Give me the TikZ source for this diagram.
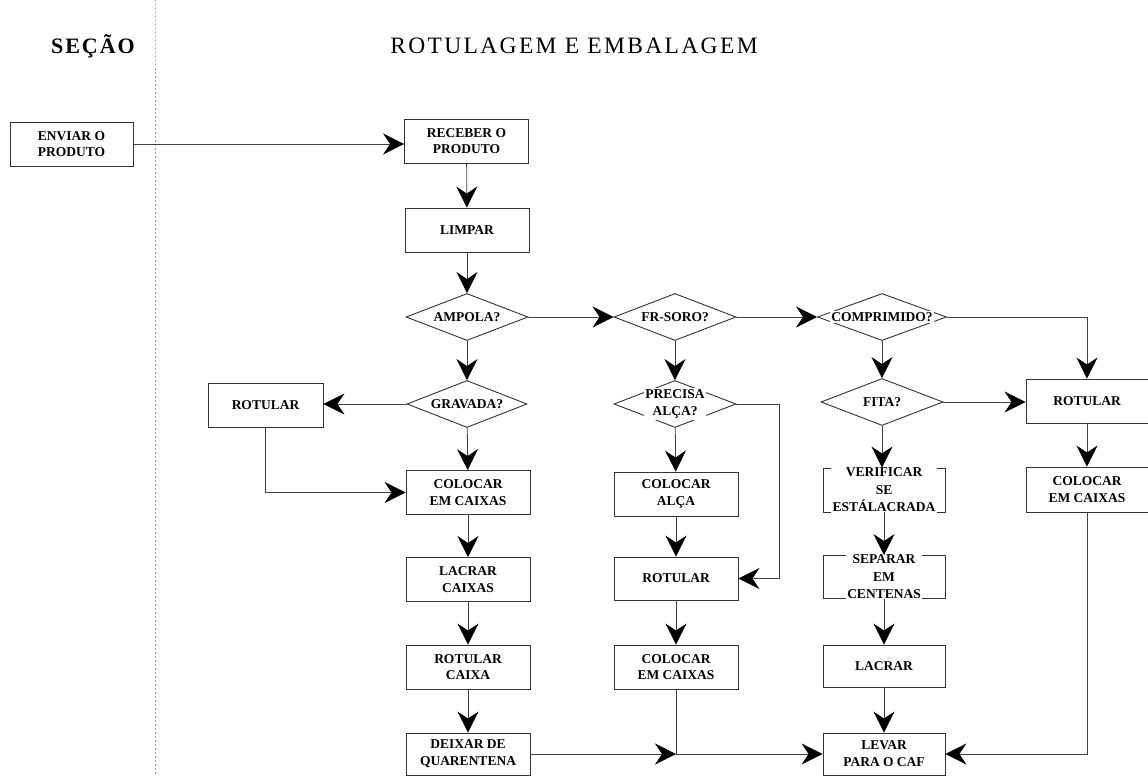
\documentclass[tikz,border=0pt]{standalone}
\usepackage{fontspec}
\setmainfont{Liberation Serif}
\newfontfamily\headfont[LetterSpace=10]{Liberation Serif}
\newfontfamily\sectionfont[LetterSpace=9]{Liberation Serif}
\usetikzlibrary{arrows.meta,shapes.geometric}
\newcommand\stepfont{\fontsize{13.5}{16.8}\selectfont\bfseries}

\begin{document}
\begin{tikzpicture}[x=1pt,y=-1pt,
  every node/.style={inner sep=0pt},
  stepbox/.style={draw=black!80,line width=0.9pt,minimum width=124pt,
    minimum height=44pt,align=center,font=\stepfont,fill=white},
  emptybox/.style={draw=black!80,line width=0.9pt,minimum width=122pt,
    minimum height=44pt},
  decision/.style={diamond,draw=black!80,line width=0.9pt,minimum width=122pt,
    minimum height=47pt,inner sep=0pt},
  overtext/.style={fill=white,inner sep=1.5pt,align=center,font=\stepfont},
  flow/.style={draw=black!75,line width=0.8pt},
  arr/.style={flow,-{Stealth[length=21pt,width=21pt,inset=7pt,black]}},
  heading/.style={font=\headfont\fontsize{23.5}{28}\selectfont}
]
\path[use as bounding box] (0,0) rectangle (1148,776);

% column headings and the divider between them
\node[font=\sectionfont\bfseries\fontsize{22}{26}\selectfont] (secao) at (93,46) {SEÇÃO};
\node[heading] (titulo) at (574,46) {ROTULAGEM E EMBALAGEM};
\draw[black!40,line width=0.6pt,dash pattern=on 1.5pt off 2.5pt] (155,0) -- (155,776);

% sending section
\node[stepbox,minimum width=123pt] (enviar) at (71.5,144) {ENVIAR O\\PRODUTO};

% main trunk
\node[stepbox] (receber) at (466.5,141) {RECEBER O\\PRODUTO};
\node[stepbox] (limpar) at (467,230) {LIMPAR};
\node[decision] (ampola) at (467,317) {};
\node[overtext] (ampola-t) at (ampola) {AMPOLA?};
\node[decision] (frsoro) at (675,317) {};
\node[overtext] (frsoro-t) at (frsoro) {FR-SORO?};
\node[decision,minimum width=129pt] (comp) at (882,317) {};
\node[overtext] (comp-t) at (comp) {COMPRIMIDO?};

% ampoule branch
\node[decision,minimum width=120pt] (gravada) at (467,404) {};
\node[overtext] (gravada-t) at (gravada) {GRAVADA?};
\node[stepbox,minimum width=115pt] (rotL) at (265.5,405) {ROTULAR};
\node[stepbox] (colocarA) at (468,492.5) {COLOCAR\\EM CAIXAS};
\node[stepbox] (lacrarCx) at (468,579.5) {LACRAR\\CAIXAS};
\node[stepbox] (rotCx) at (468,667) {ROTULAR\\CAIXA};
\node[stepbox,minimum height=42pt] (deixar) at (468,754) {DEIXAR DE\\QUARENTENA};

% serum bottle branch
\node[decision] (precisa) at (675,404) {};
\node[overtext] (precisa-t) at (precisa) {PRECISA\\ALÇA?};
\node[stepbox] (colAlca) at (676,494) {COLOCAR\\ALÇA};
\node[stepbox,minimum height=43pt] (rotM) at (676,578.5) {ROTULAR};
\node[stepbox] (colocarB) at (676,667) {COLOCAR\\EM CAIXAS};

% tablet branch
\node[decision] (fita) at (882,402) {};
\node[overtext] (fita-t) at (fita) {FITA?};
\node[emptybox] (verif) at (884,490) {};
\node[overtext,font=\fontsize{13.5}{17.5}\selectfont\bfseries] (verif-t) at (verif) {VERIFICAR\\SE\\ESTÁLACRADA};
\node[emptybox,minimum height=43pt] (separar) at (884,577) {};
\node[overtext,font=\fontsize{13.5}{17.5}\selectfont\bfseries] (separar-t) at (separar) {SEPARAR\\EM\\CENTENAS};
\node[stepbox,minimum width=122pt,minimum height=42pt] (lacrar) at (884,666) {LACRAR};
\node[stepbox,minimum width=122pt,minimum height=42pt] (levar) at (884,754) {LEVAR\\PARA O CAF};

% right-hand column
\node[stepbox,minimum width=122pt] (rotR) at (1087,401) {ROTULAR};
\node[stepbox,minimum width=122pt,minimum height=45pt] (colocarC) at (1087,489.5) {COLOCAR\\EM CAIXAS};

% helper points for the bent connectors
\coordinate (bypass) at (779,0);
\coordinate (junc) at (colocarB.south |- levar.west);

% connectors
\draw[arr] (enviar.east) -- (enviar.east -| receber.west);
\draw[arr] (receber) -- (limpar);
\draw[arr] (limpar) -- (ampola);
\draw[arr] (ampola) -- (gravada);
\draw[arr] (gravada.west) -- (gravada.west -| rotL.east);
\draw[arr] (rotL.south) |- (colocarA.west);
\draw[arr] (gravada) -- (colocarA);
\draw[arr] (colocarA) -- (lacrarCx);
\draw[arr] (lacrarCx) -- (rotCx);
\draw[arr] (rotCx) -- (deixar);
\draw[arr] (ampola) -- (frsoro);
\draw[arr] (frsoro) -- (comp);
\draw[arr] (comp.east) -| (rotR.north);
\draw[arr] (frsoro) -- (precisa);
\draw[arr] (precisa) -- (colAlca);
\draw[arr] (precisa.east) -- (precisa.east -| bypass) |- (rotM.east);
\draw[arr] (colAlca) -- (rotM);
\draw[arr] (rotM) -- (colocarB);
\draw[flow] (colocarB.south) -- (junc);
\draw[arr] (deixar.east) -- (junc);
\draw[arr] (junc) -- (levar.west);
\draw[arr] (comp) -- (fita);
\draw[arr] (fita.east) -- (fita.east -| rotR.west);
\draw[arr] (fita.south) -- (fita.south |- verif.north);
\draw[arr] (verif.south -| verif-t.south) -- (separar.north -| verif-t.south);
\draw[arr] (separar) -- (lacrar);
\draw[arr] (lacrar) -- (levar);
\draw[arr] (rotR) -- (colocarC);
\draw[arr] (colocarC.south) |- (levar.east);
\end{tikzpicture}
\end{document}
